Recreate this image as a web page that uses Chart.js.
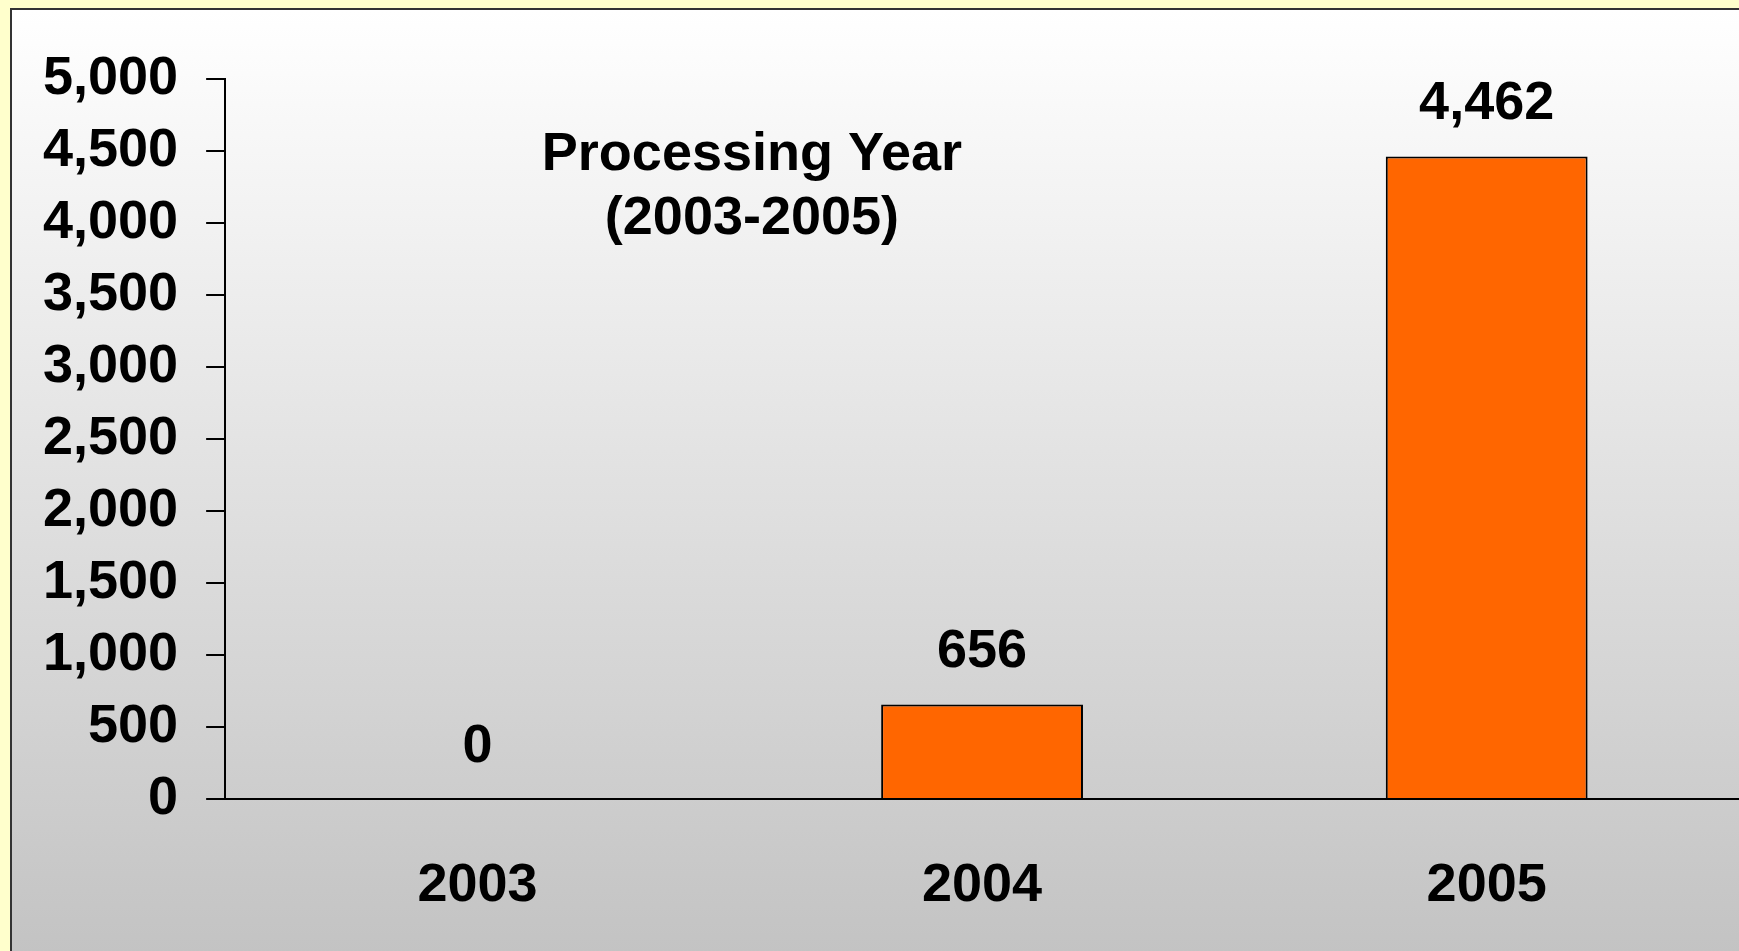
<!DOCTYPE html>
<html>
<head>
<meta charset="utf-8">
<script src="https://cdn.jsdelivr.net/npm/chart.js@4"></script>
<style>
  html, body { margin: 0; padding: 0; width: 1739px; height: 951px; overflow: hidden; background: #FFFFCC; }
  #panel { position: absolute; left: 10px; top: 8px; width: 1800px; height: 1000px; box-sizing: border-box;
           border: 2px solid #333333; background: linear-gradient(to bottom, #ffffff 0px, #c3c3c3 943px); }
  #wrap { position: absolute; left: 0; top: 0; width: 1739px; height: 951px; }
</style>
</head>
<body>
<div id="panel"></div>
<div id="wrap"><canvas id="c" width="1739" height="951"></canvas></div>
<script>
const categories = ['2003', '2004', '2005'];
const counts = [0, 656, 4462];
const yTicks = [0, 500, 1000, 1500, 2000, 2500, 3000, 3500, 4000, 4500, 5000];
const titleLines = ['Processing Year', '(2003-2005)'];

const FONT = '"Liberation Sans", Arial, Helvetica, sans-serif';
const FSIZE = 54;
const fmt = v => Number(v).toLocaleString('en-US');

const overlayPlugin = {
  id: 'overlay',
  afterDatasetsDraw(chart) {
    const ctx = chart.ctx;
    const area = chart.chartArea;
    ctx.save();
    ctx.fillStyle = '#000';
    ctx.font = 'bold ' + FSIZE + 'px ' + FONT;
    ctx.textAlign = 'center';
    ctx.textBaseline = 'middle';
    const meta = chart.getDatasetMeta(0);
    meta.data.forEach((bar, i) => {
      ctx.fillText(fmt(counts[i]), bar.x, bar.y - 52);
    });
    const tx = area.left + 0.348 * (area.right - area.left);
    titleLines.forEach((t, i) => {
      ctx.fillText(t, tx, area.top + 76 + i * 64);
    });
    ctx.restore();
  }
};

new Chart(document.getElementById('c'), {
  type: 'bar',
  data: {
    labels: categories,
    datasets: [{
      data: counts,
      backgroundColor: '#FF6600',
      borderColor: '#000000',
      borderWidth: 2,
      borderSkipped: 'bottom',
      barPercentage: 0.4,
      categoryPercentage: 1.0
    }]
  },
  options: {
    responsive: false,
    animation: false,
    events: [],
    layout: { padding: { top: 79, left: 15, right: 0, bottom: 0 } },
    plugins: { legend: { display: false }, tooltip: { enabled: false }, title: { display: false } },
    scales: {
      x: {
        type: 'category',
        offset: true,
        grid: { display: false, drawTicks: false },
        border: { display: true, color: '#000', width: 2 },
        ticks: { color: '#000', font: { family: FONT, size: FSIZE, weight: 'bold' }, padding: 55, maxRotation: 0 },
        afterFit: axis => { axis.height = 152; }
      },
      y: {
        min: yTicks[0],
        max: yTicks[yTicks.length - 1],
        afterBuildTicks: axis => { axis.ticks = yTicks.map(v => ({ value: v })); },
        grid: { drawOnChartArea: false, drawTicks: true, tickLength: 19, color: '#000', lineWidth: 2 },
        border: { display: true, color: '#000', width: 2 },
        ticks: { color: '#000', font: { family: FONT, size: FSIZE, weight: 'bold' }, padding: 28, callback: v => fmt(v) }
      }
    }
  },
  plugins: [overlayPlugin]
});
</script>
</body>
</html>
